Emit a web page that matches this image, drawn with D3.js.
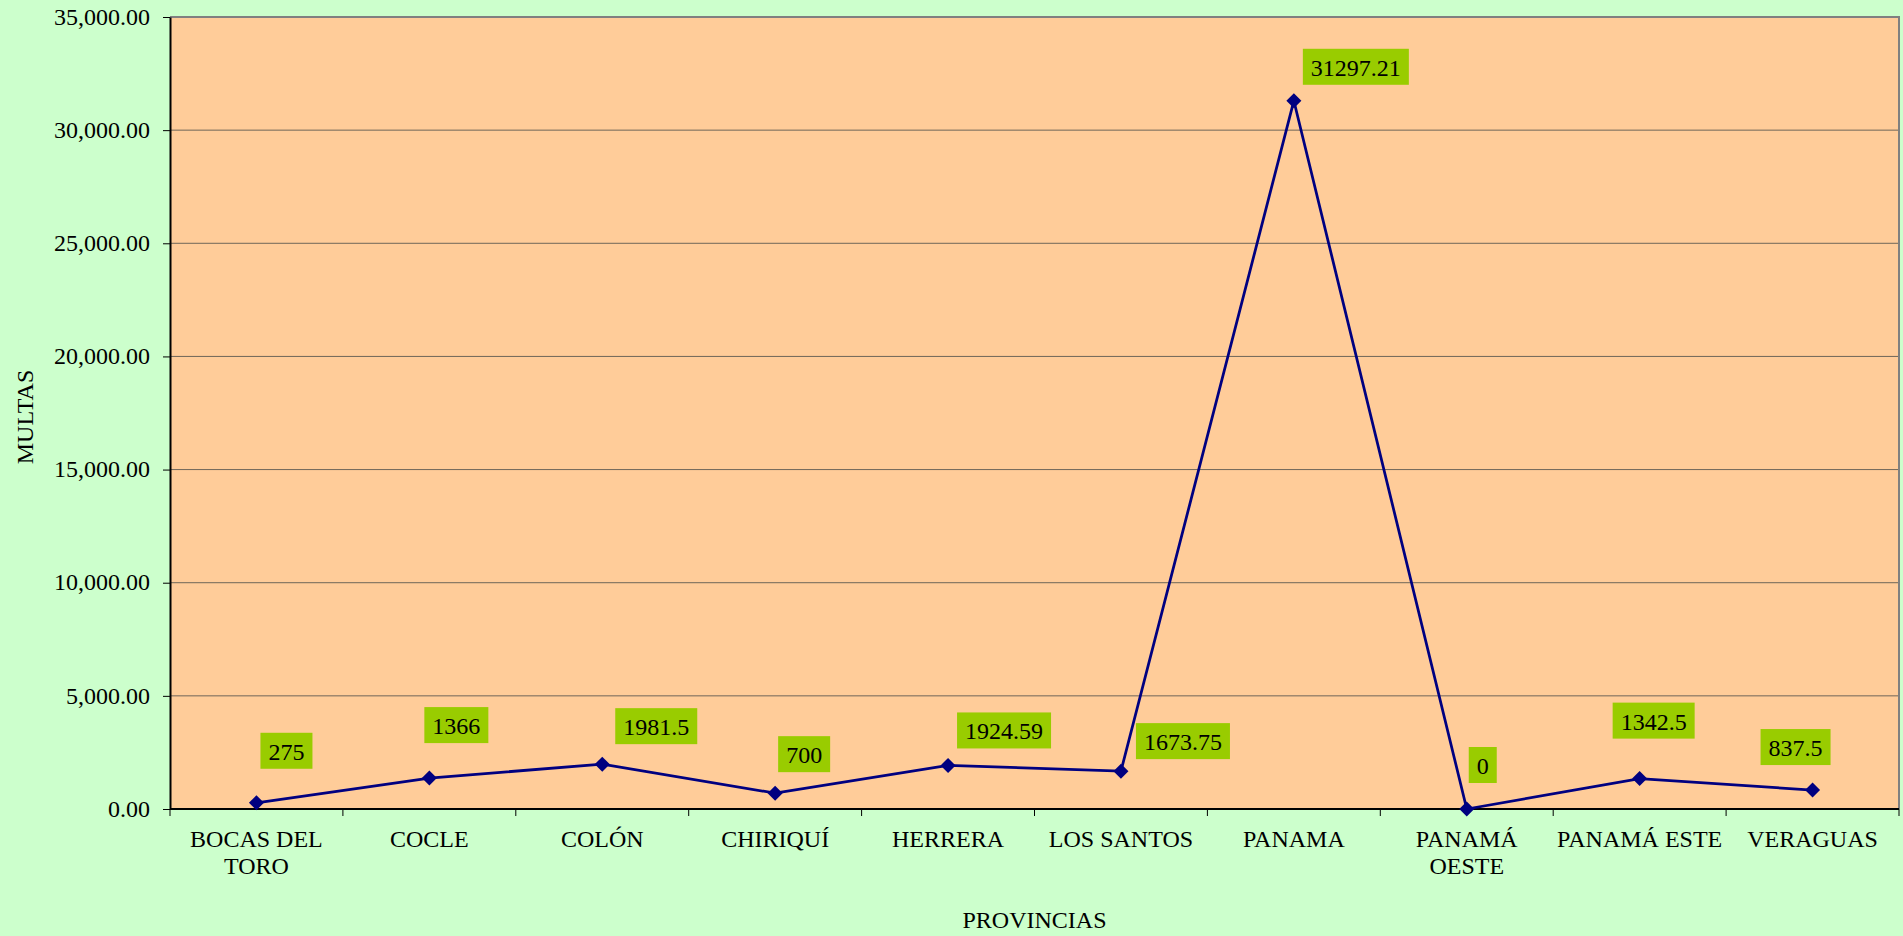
<!DOCTYPE html>
<html>
<head>
<meta charset="utf-8">
<script src="https://cdn.jsdelivr.net/npm/d3@7"></script>
<style>
    body { margin: 0; background: #CCFFCC; }
    text { font-family: "Liberation Serif", "Times New Roman", serif; fill: #000; }
</style>
</head>
<body>
<script>
let provincias = [
    "BOCAS DEL TORO",
    "COCLE",
    "COLÓN",
    "CHIRIQUÍ",
    "HERRERA",
    "LOS SANTOS",
    "PANAMA",
    "PANAMÁ OESTE",
    "PANAMÁ ESTE",
    "VERAGUAS"
]

let multas = [275, 1366, 1981.5, 700, 1924.59, 1673.75, 31297.21, 0, 1342.5, 837.5]

let yTicks = [0, 5000, 10000, 15000, 20000, 25000, 30000, 35000]

// where each value box sits next to its point (box centre dx, box bottom dy)
let labelNudge = [
    [30, -34], [27, -35], [54, -20], [29, -21], [56, -17],
    [62, -12], [62, -16], [16, -26], [14, -40], [-17, -25]
]

function main() {
    let width = 1903, height = 936;
    let left = 170, right = 1899, top = 17, bottom = 809;

    let svg = d3.select("body").append("svg")
        .attr("width", width)
        .attr("height", height);

    svg.append("rect")
        .attr("width", width).attr("height", height)
        .attr("fill", "#CCFFCC");

    let xScale = d3.scaleBand().domain(provincias).range([left, right]);
    let yScale = d3.scaleLinear().domain([0, 35000]).range([bottom, top]);

    // plot area
    svg.append("rect")
        .attr("x", left).attr("y", top)
        .attr("width", right - left).attr("height", bottom - top)
        .attr("fill", "#FFCC99");

    // grid lines
    svg.append("g")
        .selectAll("line")
        .data(yTicks.filter(d => d > 0 && d < 35000))
        .enter()
        .append("line")
        .attr("x1", left).attr("x2", right)
        .attr("y1", d => yScale(d)).attr("y2", d => yScale(d))
        .attr("stroke", "#6f6659")
        .attr("stroke-width", 1);

    // gray frame top / right
    svg.append("path")
        .attr("d", `M${left},${top}H${right}V${bottom}`)
        .attr("fill", "none")
        .attr("stroke", "#808080")
        .attr("stroke-width", 2);

    let yAxis = d3.axisLeft(yScale)
        .tickValues(yTicks)
        .tickFormat(d3.format(",.2f"))
        .tickSize(7)
        .tickSizeOuter(0)
        .tickPadding(13);

    let gy = svg.append("g")
        .attr("transform", `translate(${left},0)`)
        .call(yAxis);
    gy.selectAll("text")
        .style("font-size", "24px")
        .style("font-family", "'Liberation Serif', serif")
        .attr("dy", "0.3em");
    gy.select(".domain").attr("stroke", "#000").attr("stroke-width", 2);
    gy.selectAll(".tick line").attr("stroke", "#000");

    // x axis: line, boundary ticks, wrapped labels
    let gx = svg.append("g");
    gx.append("line")
        .attr("x1", left).attr("x2", right)
        .attr("y1", bottom).attr("y2", bottom)
        .attr("stroke", "#000").attr("stroke-width", 2);

    let bounds = provincias.map(p => xScale(p)).concat([xScale.range()[1]]);
    gx.selectAll(".xt")
        .data(bounds)
        .enter()
        .append("line")
        .attr("x1", d => d).attr("x2", d => d)
        .attr("y1", bottom).attr("y2", bottom + 7)
        .attr("stroke", "#000");

    gx.selectAll(".xl")
        .data(provincias)
        .enter()
        .append("text")
        .attr("x", d => xScale(d) + xScale.bandwidth() / 2)
        .attr("y", bottom + 38)
        .attr("text-anchor", "middle")
        .style("font-size", "24px")
        .each(function (d) {
            let el = d3.select(this);
            let words = d.split(" ");
            let line = [], lineNo = 0;
            let tspan = el.append("tspan").attr("x", el.attr("x")).attr("dy", 0);
            words.forEach(w => {
                line.push(w);
                tspan.text(line.join(" "));
                if (tspan.node().getComputedTextLength() > xScale.bandwidth() - 2 && line.length > 1) {
                    line.pop();
                    tspan.text(line.join(" "));
                    line = [w];
                    lineNo++;
                    tspan = el.append("tspan").attr("x", el.attr("x")).attr("dy", "27").text(w);
                }
            });
        });

    // axis titles
    svg.append("text")
        .attr("x", (left + right) / 2)
        .attr("y", 928)
        .attr("text-anchor", "middle")
        .style("font-size", "24px")
        .text("PROVINCIAS");

    svg.append("text")
        .attr("transform", `translate(33, ${(top + bottom) / 2 + 4}) rotate(-90)`)
        .attr("text-anchor", "middle")
        .style("font-size", "24px")
        .text("MULTAS");

    // line
    let cx = (d, i) => xScale(provincias[i]) + xScale.bandwidth() / 2;
    let line = d3.line()
        .x((d, i) => cx(d, i))
        .y(d => yScale(d));

    svg.append("path")
        .datum(multas)
        .attr("d", line)
        .attr("fill", "none")
        .attr("stroke", "#000080")
        .attr("stroke-width", 2.75);

    svg.selectAll(".marker")
        .data(multas)
        .enter()
        .append("path")
        .attr("d", "M0,-7.5L7.5,0L0,7.5L-7.5,0Z")
        .attr("transform", (d, i) => `translate(${cx(d, i)},${yScale(d)})`)
        .attr("fill", "#000080");

    // value labels
    let labels = svg.selectAll(".vlabel")
        .data(multas)
        .enter()
        .append("g")
        .attr("transform", (d, i) => `translate(${cx(d, i) + labelNudge[i][0]},${yScale(d) + labelNudge[i][1]})`);

    labels.each(function (d) {
        let g = d3.select(this);
        let rect = g.append("rect").attr("fill", "#99CC00");
        let t = g.append("text")
            .attr("x", 0)
            .attr("y", -9)
            .attr("text-anchor", "middle")
            .style("font-size", "24px")
            .text(String(d));
        let w = t.node().getComputedTextLength() + 16;
        rect.attr("x", -w / 2).attr("y", -36).attr("width", w).attr("height", 36);
    });
}

main()
</script>
</body>
</html>
